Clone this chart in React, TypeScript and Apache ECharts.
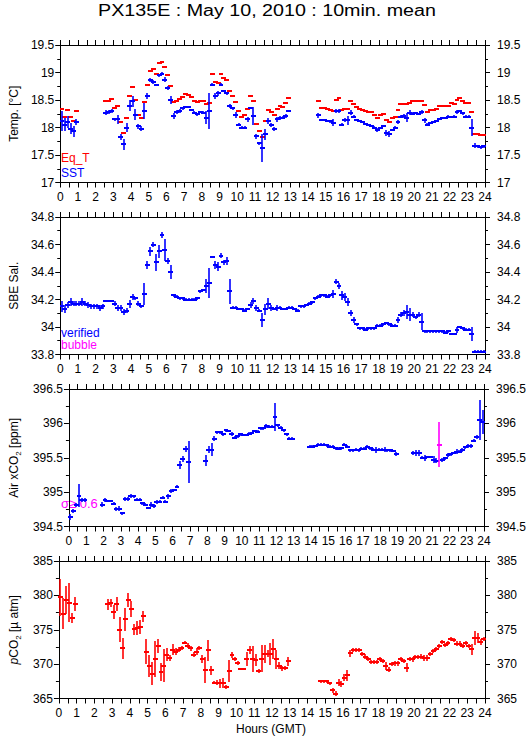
import React, { useEffect, useRef } from "react";
import * as echarts from "echarts";

const FONT = "'Liberation Sans', Arial, Helvetica, sans-serif";

// 10-minute slot centres (hours GMT)
const HOURS: number[] = Array.from({ length: 144 }, (_, k) => (k + 0.5) / 6);
const X_TICKS = { min: 0, max: 24, step: 1 };

const N = null;
// ---------- Panel 1 : temperature ----------
const sst: (number | null)[] = [
  18.12, 18.05, 18.10, 17.98, 17.93, 18.10,
  N, N, N, N, N, N,
  N, N, N, 18.27, 18.28, 18.30,
  18.15, 18.15, 17.83, 17.70, 18.00, 18.40,
  18.48, 18.23, 18.02, 17.98, 18.30, 18.57,
  18.86, 18.83, 18.78, 18.95, 18.98, 18.87,
  18.72, 18.50, 18.21, 18.28, 18.30, 18.35,
  18.38, 18.37, 18.32, 18.27, 18.24, 18.28,
  18.27, 18.18, 18.30, 18.78, 18.57, 18.62,
  18.78, 18.67, 18.62, 18.39, 18.35, 18.23,
  18.05, 18.00, 18.00, 18.15, 18.35, 18.21,
  17.84, 17.71, 17.63, 17.88, 18.12, 18.05,
  17.97, 18.15, 18.17, 18.18, 18.21, 18.30,
  N, N, N, N, N, N,
  N, N, N, 18.22, 18.13, 18.14,
  18.12, 18.11, 18.09, 18.30, 18.30, 18.05,
  18.14, 18.13, 18.27, 18.20, 18.13, 18.12,
  18.10, 18.07, 18.05, 18.03, 18.00, 17.96,
  17.99, 18.03, 17.90, 17.88, 17.95, 18.00,
  18.10, 18.20, 18.21, 18.18, 18.27, 18.25,
  18.27, 18.24, 18.28, 18.13, 18.05, 18.08,
  18.10, 18.12, 18.15, 18.17, 18.18, 18.20,
  18.19, 18.20, 18.28, 18.30, 18.26, 18.20,
  18.20, 18.00, 17.67, 17.66, 17.64, 17.66,
];
const sstStd: number[] = [
  .18, .12, .10, .10, .10, .06,
  0, 0, 0, 0, 0, 0,
  0, 0, 0, .05, .04, .04,
  .03, .08, .06, .10, .08, .10,
  .10, .10, .04, .04, .15, .06,
  .04, .03, .02, .03, .03, .05,
  .03, .08, .05, .04, .03, .03,
  .02, .02, .02, .03, .03, .02,
  .03, .12, .32, .03, .05, .05,
  .03, .02, .03, .04, .03, .05,
  .03, .02, .02, .05, .02, .17,
  .05, .03, .25, .10, .05, .04,
  .04, .05, .03, .03, .03, .02,
  0, 0, 0, 0, 0, 0,
  0, 0, 0, .04, .02, .02,
  .02, .02, .06, .03, .03, .03,
  .04, .08, .04, .03, .02, .02,
  .02, .02, .02, .02, .03, .04,
  .02, .02, .06, .06, .02, .02,
  .04, .03, .03, .08, .05, .03,
  .02, .02, .03, .05, .03, .02,
  .02, .02, .02, .02, .02, .02,
  .02, .02, .03, .02, .03, .02,
  .02, .15, .04, .03, .03, .03,
];
const eqT: (number | null)[] = [
  18.33, 18.20, 18.32, 18.20, 18.12, 18.30,
  N, N, N, N, N, N,
  N, N, N, 18.48, 18.48, 18.52,
  18.36, 18.40, 18.10, 17.90, 18.18, 18.58,
  18.73, 18.50, 18.23, 18.17, 18.47, 18.78,
  19.03, 19.06, 18.97, 19.17, 19.20, 19.10,
  18.96, 18.76, 18.47, 18.48, 18.52, 18.55,
  18.60, 18.59, 18.56, 18.49, 18.47, 18.48,
  18.48, 18.42, 18.45, 18.98, 18.82, 18.81,
  18.98, 18.90, 18.87, 18.67, 18.58, 18.47,
  18.30, 18.20, 18.22, 18.34, 18.57, 18.49,
  18.07, 17.94, 17.83, 18.12, 18.31, 18.29,
  18.22, 18.33, 18.40, 18.38, 18.44, 18.53,
  N, N, N, N, N, N,
  N, N, N, 18.48, 18.35, 18.36,
  18.34, 18.32, 18.30, 18.50, 18.53, 18.32,
  18.34, 18.33, 18.49, 18.43, 18.37, 18.33,
  18.31, 18.30, 18.29, 18.28, 18.22, 18.18,
  18.22, 18.24, 18.13, 18.10, 18.17, 18.20,
  18.31, 18.43, 18.43, 18.43, 18.45, 18.49,
  18.48, 18.48, 18.48, 18.41, 18.29, 18.32,
  18.32, 18.33, 18.39, 18.39, 18.39, 18.39,
  18.44, 18.43, 18.50, 18.53, 18.49, 18.45,
  18.45, 18.29, 17.89, 17.89, 17.86, 17.87,
];

// ---------- Panel 2 : salinity ----------
const sal: (number | null)[] = [
  34.15, 34.13, 34.16, 34.18, 34.17, 34.17,
  34.17, 34.18, 34.17, 34.16, 34.15, 34.15,
  34.15, 34.14, 34.15, 34.19, 34.19, 34.19,
  34.17, 34.14, 34.14, 34.11, 34.12, 34.17,
  34.22, 34.21, 34.17, 34.15, 34.24, 34.45,
  34.55, 34.60, 34.47, 34.55, 34.67, 34.56,
  34.48, 34.40, 34.23, 34.22, 34.21, 34.21,
  34.20, 34.20, 34.20, 34.20, 34.21, 34.26,
  34.27, 34.30, 34.32, 34.51, 34.45, 34.44,
  34.52, 34.47, 34.48, 34.26, 34.14, 34.14,
  34.13, 34.13, 34.12, 34.13, 34.16, 34.19,
  34.14, 34.12, 34.05, 34.13, 34.17, 34.14,
  34.13, 34.14, 34.14, 34.13, 34.13, 34.14,
  34.14, 34.13, 34.12, 34.15, 34.15, 34.16,
  34.17, 34.18, 34.21, 34.22, 34.23, 34.23,
  34.22, 34.23, 34.24, 34.33, 34.30, 34.23,
  34.22, 34.18, 34.10, 34.05, 34.02, 33.99,
  33.99, 33.98, 33.99, 33.99, 33.99, 34.01,
  34.01, 34.02, 34.03, 34.02, 34.01, 34.01,
  34.05, 34.09, 34.10, 34.11, 34.09, 34.09,
  34.07, 34.09, 34.04, 33.97, 33.97, 33.97,
  33.97, 33.97, 33.97, 33.97, 33.96, 33.97,
  33.95, 33.95, 33.98, 34.00, 33.99, 33.98,
  33.98, 33.95, 33.82, 33.82, 33.82, 33.82,
];
const salStd: number[] = [
  .04, .03, .02, .03, .02, .02,
  .02, .03, .02, .02, .02, .02,
  .02, .02, .02, .01, .01, .01,
  .02, .02, .02, .02, .02, .03,
  .02, .01, .02, .01, .08, .03,
  .03, .02, .06, .05, .02, .08,
  .02, .05, .01, .01, .01, .01,
  .01, .01, .01, .01, .01, .01,
  .01, .05, .11, .01, .03, .03,
  .02, .02, .03, .09, .01, .01,
  .01, .01, .01, .01, .02, .02,
  .02, .01, .05, .04, .04, .02,
  .01, .02, .01, .01, .01, .01,
  .01, .01, .01, .01, .01, .01,
  .01, .01, .01, .01, .01, .01,
  .01, .01, .03, .02, .02, .03,
  .03, .03, .02, .02, .01, .01,
  .01, .01, .01, .01, .01, .01,
  .01, .01, .01, .01, .01, .01,
  .02, .02, .02, .05, .05, .02,
  .01, .02, .06, .01, .01, .01,
  .01, .01, .01, .01, .01, .01,
  .01, .01, .02, .01, .01, .01,
  .01, .05, .01, .01, .01, .01,
];

// ---------- Panel 3 : air xCO2 ----------
const xco2: (number | null)[] = [
  394.64, 394.72, 394.81, 394.95, 394.89, 394.89,
  N, N, N, N, N, 394.82,
  394.89, 394.87, 394.87, 394.83, 394.76, 394.76,
  394.69, 394.90, 394.90, 394.95, 394.94, 394.89,
  394.89, 394.84, 394.82, 394.77, 394.82, 394.80,
  394.85, 394.86, 394.92, 394.86, 394.94, 395.02,
  395.03, 395.08, 395.39, 395.48, 395.63, 395.44,
  N, N, N, N, N, 395.46,
  395.62, 395.62, 395.78, 395.87, 395.87, 395.84,
  395.90, 395.89, 395.84, 395.79, 395.81, 395.84,
  395.83, 395.83, 395.85, 395.86, 395.89, 395.88,
  395.93, 395.93, 395.96, 395.95, 395.95, 396.09,
  395.97, 395.94, 395.90, 395.84, 395.78, 395.78,
  N, N, N, N, N, 395.66,
  395.66, 395.67, 395.69, 395.69, 395.69, 395.68,
  395.66, 395.66, 395.64, 395.63, 395.64, 395.69,
  395.66, 395.61, 395.61, 395.62, 395.61, 395.63,
  395.63, 395.66, 395.64, 395.62, 395.61, 395.62,
  395.62, 395.62, 395.61, 395.61, 395.60, 395.56,
  N, N, N, N, N, 395.57,
  395.57, 395.57, 395.50, 395.50, 395.51, 395.51,
  395.47, 395.46, 395.69, 395.47, 395.49, 395.54,
  395.55, 395.57, 395.59, 395.59, 395.61, 395.65,
  395.67, 395.67, 395.75, 395.80, 396.05, 396.02,
];
const xco2Std: number[] = [
  .04, .03, .03, .17, .03, .03,
  0, 0, 0, 0, 0, .03,
  .03, .02, .02, .02, .03, .04,
  .02, .03, .03, .03, .02, .02,
  .02, .02, .02, .02, .03, .03,
  .03, .02, .02, .02, .04, .03,
  .02, .02, .06, .04, .04, .30,
  0, 0, 0, 0, 0, .08,
  .05, .10, .03, .02, .02, .02,
  .02, .02, .03, .02, .02, .02,
  .02, .02, .02, .02, .02, .02,
  .02, .02, .03, .02, .02, .20,
  .02, .02, .02, .02, .02, .02,
  0, 0, 0, 0, 0, .02,
  .02, .02, .02, .02, .02, .02,
  .02, .02, .02, .02, .02, .02,
  .02, .02, .02, .02, .02, .02,
  .02, .02, .02, .02, .04, .02,
  .02, .04, .02, .02, .02, .03,
  0, 0, 0, 0, 0, .03,
  .04, .04, .02, .04, .02, .02,
  .05, .03, .33, .03, .02, .03,
  .02, .02, .04, .02, .03, .02,
  .03, .03, .02, .03, .29, .17,
];
// slots flagged (std >= 0.6 group), drawn in magenta
const xco2Flagged: number[] = [128];

// ---------- Panel 4 : pCO2 ----------
const pco2: (number | null)[] = [
  379.7, 377.35, 379.3, 378.95, 376.7, 378.8,
  N, N, N, N, N, N,
  N, N, N, N, 378.7, 378.9,
  377.6, 378.8, 375.0, 372.3, 376.5, 379.3,
  378.0, 375.1, 375.3, 375.4, 377.0, 371.8,
  369.7, 368.6, 370.8, 372.6, 368.8, 369.8,
  371.4, 370.9, 372.1, 371.8, 372.1, 372.3,
  373.1, 372.7, 372.3, 371.4, 371.8, 372.4,
  370.7, 369.2, 372.0, 369.1, 367.3, 367.3,
  367.2, 367.3, 366.7, 369.0, 371.3, 370.7,
  370.2, 369.3, 369.3, 370.7, 372.1, 370.7,
  370.6, 369.0, 370.8, 371.5, 371.5, 371.5,
  372.2, 370.7, 369.8, 369.4, 369.5, 370.4,
  N, N, N, N, N, N,
  N, N, N, N, 367.5, 367.5,
  367.5, 367.2, 366.2, 365.7, 367.3, 367.1,
  368.0, 368.4, 371.6, 372.1, 372.0, 372.1,
  371.5, 371.1, 370.7, 370.3, 370.3, 370.3,
  370.8, 370.5, 369.7, 369.2, 370.0, 370.1,
  370.1, 370.7, 370.5, 369.5, 370.8, 370.7,
  371.0, 371.0, 371.1, 370.9, 370.9, 371.5,
  371.9, 372.2, 372.6, 373.2, 372.8, 373.1,
  373.6, 373.5, 373.0, 373.0, 372.7, 373.1,
  372.7, 372.2, 373.8, 373.8, 373.2, 373.6,
];
const pco2Std: number[] = [
  2.7, 2.3, 2.0, 2.8, 0.7, 1.0,
  0, 0, 0, 0, 0, 0,
  0, 0, 0, 0, 0.8, 0.6,
  1.0, 1.0, 1.8, 1.5, 1.7, 1.0,
  1.2, 0.8, 1.0, 1.0, 0.8, 1.8,
  1.6, 1.7, 2.6, 1.0, 1.3, 2.4,
  0.9, 0.4, 0.8, 0.5, 0.4, 0.3,
  0.2, 0.4, 0.4, 0.4, 0.5, 0.3,
  0.6, 1.9, 1.5, 0.7, 0.2, 0.4,
  0.7, 0.7, 0.3, 1.6, 0.4, 0.3,
  0.3, 0.2, 0.2, 1.0, 0.6, 1.9,
  0.9, 0.3, 2.0, 1.3, 0.5, 1.6,
  1.4, 1.4, 0.5, 0.4, 0.3, 0.6,
  0, 0, 0, 0, 0, 0,
  0, 0, 0, 0, 0.2, 0.2,
  0.2, 0.2, 0.4, 0.4, 0.5, 0.4,
  0.5, 0.8, 0.5, 0.3, 0.3, 0.3,
  0.3, 0.3, 0.3, 0.3, 0.3, 0.3,
  0.3, 0.3, 0.6, 0.4, 0.3, 0.3,
  0.3, 0.3, 0.3, 0.6, 0.3, 0.4,
  0.3, 0.3, 0.3, 0.4, 0.4, 0.3,
  0.3, 0.3, 0.3, 0.3, 0.3, 0.3,
  0.3, 0.3, 0.3, 0.3, 0.3, 0.3,
  0.3, 0.8, 1.0, 0.7, 0.4, 0.3,
];

// y-axis ranges per panel
const Y_RANGES = [
  { min: 17, max: 19.5, interval: 0.5 },
  { min: 33.8, max: 34.8, interval: 0.2 },
  { min: 394.5, max: 396.5, interval: 0.5 },
  { min: 365, max: 385, interval: 5 },
];
const Y_NAMES = [
  "{n|Temp. [°C]}",
  "{n|SBE Sal.}",
  "{n|Air xCO}{s|2}{n| [ppm]}",
  "{i|p}{n|CO}{s|2}{n| [µ atm]}",
];

function pack(vals: (number | null)[], std: number[], flagged: number[] = []) {
  const out: number[][] = [];
  vals.forEach((v, k) => {
    if (v !== null && v !== undefined) out.push([HOURS[k], v, std[k], flagged.includes(k) ? 1 : 0]);
  });
  return out;
}

const HALF_SLOT = 1 / 12;

function makeRender(color: string, withBar: boolean, flagColor = "#ff00ff") {
  return (_params: any, api: any) => {
    const x = api.value(0);
    const m = api.value(1);
    const s = api.value(2);
    const f = api.value(3);
    const c = f ? flagColor : color;
    const a = api.coord([x - HALF_SLOT, m]);
    const b = api.coord([x + HALF_SLOT, m]);
    const cx = Math.round(api.coord([x, m])[0]);
    const yy = Math.round(a[1]);
    const children: any[] = [
      {
        type: "line",
        shape: { x1: Math.round(a[0]), y1: yy, x2: Math.round(b[0]), y2: yy },
        style: { stroke: c, lineWidth: 2, lineCap: "square" },
      },
    ];
    if (withBar && s > 0) {
      const t = api.coord([x, m + s]);
      const u = api.coord([x, m - s]);
      children.push({
        type: "line",
        shape: { x1: cx, y1: Math.round(t[1]), x2: cx, y2: Math.round(u[1]) },
        style: { stroke: c, lineWidth: 1.6 },
      });
    }
    return { type: "group", children };
  };
}

const GRID_TOPS = [45, 217, 389, 561];
const NAME_GAPS = [35, 35, 43, 32];

export default function App() {
  const ref = useRef<HTMLDivElement>(null);
  useEffect(() => {
    if (!ref.current) return;
    const chart = echarts.init(ref.current, undefined, { renderer: "svg" });
    const axisLine = { show: true, onZero: false, lineStyle: { color: "#000", width: 1 } };
    const labelStyle = { color: "#000", fontSize: 12, fontFamily: FONT };
    const grids = GRID_TOPS.map((t) => ({ left: 58, width: 427, top: t, height: 137.5, containLabel: false }));
    const xAxes: any[] = [];
    const yAxes: any[] = [];
    GRID_TOPS.forEach((_, i) => {
      const base = {
        type: "value", gridIndex: i, min: X_TICKS.min, max: X_TICKS.max, interval: X_TICKS.step,
        axisLine, splitLine: { show: false },
        axisTick: { show: true, inside: false, length: 5, lineStyle: { color: "#000" } },
        minorTick: { show: true, splitNumber: 2, length: 5, lineStyle: { color: "#000" } },
      };
      xAxes.push({ ...base, position: "bottom", axisLabel: { ...labelStyle, margin: 8, showMinLabel: true, showMaxLabel: true } });
      xAxes.push({ ...base, position: "top", axisLabel: { show: false } });
      const r = Y_RANGES[i];
      const yb = {
        type: "value", gridIndex: i, min: r.min, max: r.max, interval: r.interval,
        axisLine, splitLine: { show: false },
        axisTick: { show: true, inside: false, length: 5, lineStyle: { color: "#000" } },
        minorTick: { show: true, splitNumber: 2, length: 3, lineStyle: { color: "#000" } },
      };
      yAxes.push({
        ...yb, position: "left",
        axisLabel: { ...labelStyle, margin: 6, showMinLabel: true, showMaxLabel: true },
        name: Y_NAMES[i], nameLocation: "middle", nameGap: NAME_GAPS[i],
        nameTextStyle: {
          color: "#000", fontFamily: FONT, fontSize: 12,
          rich: {
            n: { fontSize: 12, fontFamily: FONT, color: "#000", lineHeight: 16 },
            i: { fontSize: 12, fontFamily: FONT, color: "#000", lineHeight: 16, fontStyle: "italic" },
            s: { fontSize: 8, fontFamily: FONT, color: "#000", lineHeight: 8, verticalAlign: "bottom" },
          },
        },
      });
      yAxes.push({ ...yb, position: "right", axisLabel: { ...labelStyle, margin: 12, showMinLabel: true, showMaxLabel: true } });
    });

    const custom = (gi: number, data: number[][], color: string, bar: boolean, name: string) => ({
      type: "custom", name, xAxisIndex: gi * 2, yAxisIndex: gi * 2, clip: true,
      renderItem: makeRender(color, bar), data, encode: { x: 0, y: 1 },
      dimensions: ["t", "v", "s", "f"],
    });

    const text = (x: number, y: number, t: string, color: string, size = 12) => ({
      type: "text", x, y, silent: true,
      style: { text: t, fill: color, fontSize: size, fontFamily: FONT, align: "left", verticalAlign: "middle" },
    });

    chart.setOption({
      animation: false,
      backgroundColor: "#fff",
      grid: grids,
      xAxis: xAxes,
      yAxis: yAxes,
      series: [
        custom(0, pack(eqT, eqT.map(() => 0)), "#ff0000", false, "Eq_T"),
        custom(0, pack(sst, sstStd), "#0000ff", true, "SST"),
        custom(1, pack(sal, salStd), "#0000ff", true, "SBE Sal."),
        custom(2, pack(xco2, xco2Std, xco2Flagged), "#0000ff", true, "Air xCO2"),
        custom(3, pack(pco2, pco2Std), "#ff0000", true, "pCO2"),
      ],
      graphic: [
        {
          type: "text", x: 267, y: 11, scaleX: 1.23, silent: true,
          style: { text: "PX135E : May 10, 2010 : 10min. mean", fill: "#000", fontSize: 16, fontFamily: FONT, align: "center", verticalAlign: "middle" },
        },
        text(61, 158, "Eq_T", "#ff0000"),
        text(61, 173, "SST", "#0000ff"),
        text(61, 332.5, "verified", "#0000ff"),
        text(61, 345, "bubble", "#ff00ff"),
        text(61, 503.5, "σ≥ 0.6", "#ff00ff", 13),
        {
          type: "text", x: 271, y: 729, silent: true,
          style: { text: "Hours (GMT)", fill: "#000", fontSize: 12, fontFamily: FONT, align: "center", verticalAlign: "middle" },
        },
      ],
    });
    return () => chart.dispose();
  }, []);
  return <div ref={ref} style={{ position: "fixed", left: 0, top: 0, width: 529, height: 739, background: "#fff" }} />;
}
